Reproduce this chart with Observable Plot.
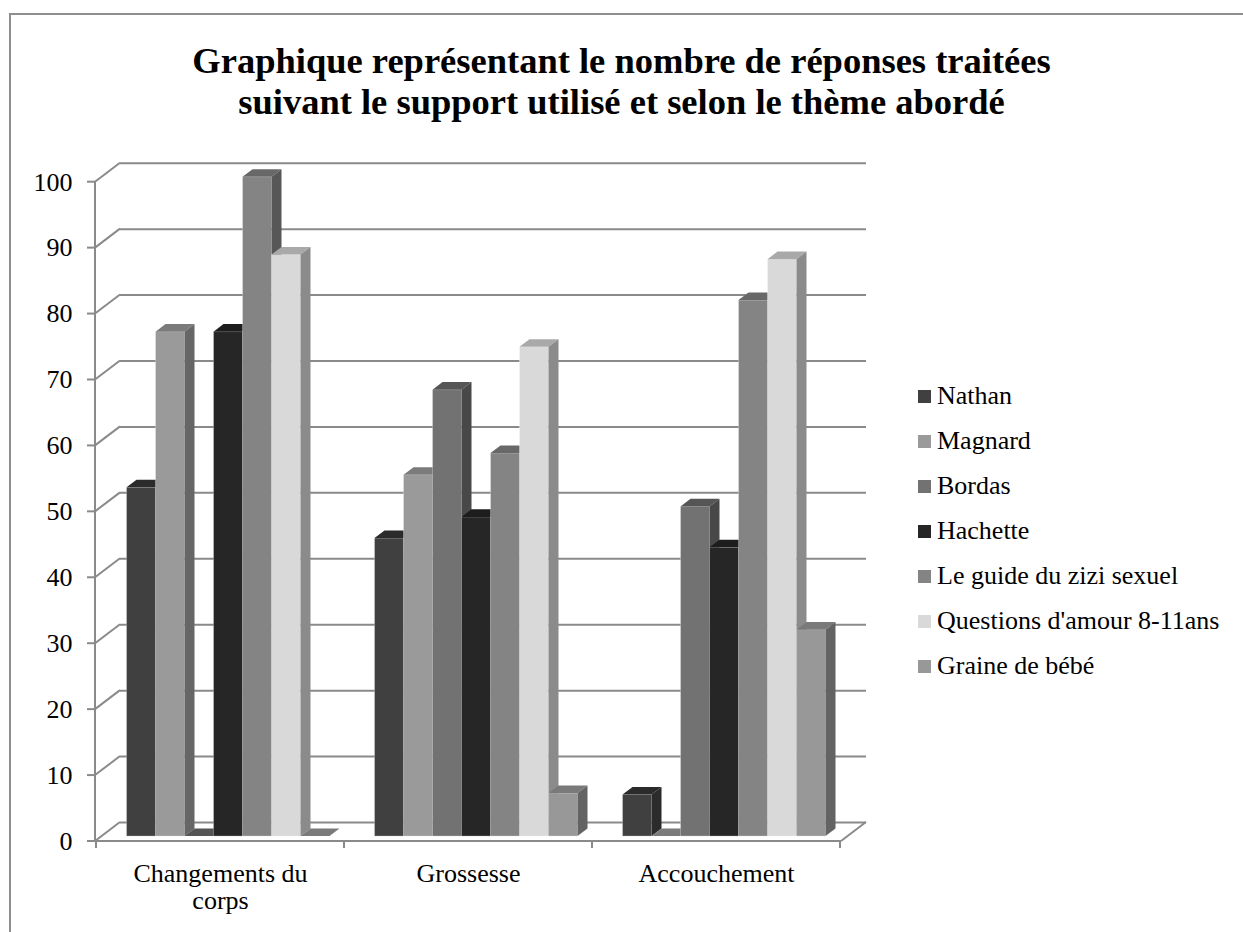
<!DOCTYPE html>
<html>
<head>
<meta charset="utf-8">
<script src="https://cdn.jsdelivr.net/npm/d3@7"></script>
<script src="https://cdn.jsdelivr.net/npm/@observablehq/plot@0.6"></script>
<style>
  html, body { margin: 0; padding: 0; background: #fff; }
  #wrap { position: relative; width: 1243px; height: 932px; overflow: hidden; background: #fff;
          font-family: "Liberation Serif", "Times New Roman", serif; }
  #border { position: absolute; left: 9px; top: 13px; width: 1400px; height: 1100px;
            border: 2px solid #8e8e8e; box-sizing: border-box; }
  #title { position: absolute; left: 0; top: 40px; width: 1243px; text-align: center;
           font-weight: bold; font-size: 36.5px; line-height: 41px; color: #000; }
  .layer { position: absolute; left: 0; top: 0; }
  .legrow { position: absolute; left: 918px; font-size: 26px; line-height: 30px; white-space: nowrap; color: #000; }
  .legrow span.sw { position: absolute; left: 0; width: 13px; height: 13px; }
  .legrow span.tx { position: absolute; left: 19px; top: 0; }
</style>
</head>
<body>
<div id="wrap">
  <div id="border"></div>
  <div id="title">Graphique représentant le nombre de réponses traitées<br>suivant le support utilisé et selon le thème abordé</div>
  <div id="back" class="layer"></div>
  <div id="bars" class="layer"></div>
  <div id="legend"></div>
</div>
<script>
// ---- data ----
const themes = ["Changements du corps", "Grossesse", "Accouchement"];
const themeLabels = ["Changements du\ncorps", "Grossesse", "Accouchement"];
const publishers = ["Nathan", "Magnard", "Bordas", "Hachette", "Le guide du zizi sexuel", "Questions d'amour 8-11ans", "Graine de bébé"];
const nathan    = [52.9, 45.2, 6.3];
const magnard   = [76.5, 54.8, 0];
const bordas    = [0, 67.7, 50];
const hachette  = [76.5, 48.4, 43.8];
const guide     = [100, 58.1, 81.3];
const questions = [88.2, 74.2, 87.5];
const graine    = [0, 6.5, 31.3];
const yTicks = [0, 10, 20, 30, 40, 50, 60, 70, 80, 90, 100];

const series = [nathan, magnard, bordas, hachette, guide, questions, graine];
const rows = [];
themes.forEach((t, i) => publishers.forEach((p, j) => rows.push({theme: t, publisher: p, value: series[j][i]})));

// ---- styles ----
const colFront = ["#404040", "#9a9a9a", "#727272", "#262626", "#848484", "#d9d9d9", "#989898"];
const colTop   = ["#2b2b2b", "#7b7b7b", "#555555", "#1d1d1d", "#686868", "#a9a9a9", "#7a7a7a"];
const colSide  = ["#2b2b2b", "#666666", "#484848", "#1d1d1d", "#575757", "#8b8b8b", "#636363"];
const GRID = "#8a8a8a";
const FONT = "'Liberation Serif', 'Times New Roman', serif";
const W = 1243, H = 932;
const M = {top: 181.7, right: 402, bottom: 91, left: 95};
const DX = 25, DY = -19;           // depth of the 3D box
const T_FRONT = 0.26, T_BACK = 0.66; // bar depth range

// ---- background: walls, gridlines, axes ----
function frame3d(index, scales, values, dimensions) {
  const xl = dimensions.marginLeft, xr = dimensions.width - dimensions.marginRight;
  const y0 = scales.y(0), y100 = scales.y(100);
  const g = d3.create("svg:g").attr("stroke", GRID).attr("stroke-width", 2).attr("fill", "none");
  for (const v of yTicks) {
    const y = scales.y(v);
    g.append("line").attr("x1", xl).attr("y1", y).attr("x2", xl + DX).attr("y2", y + DY);
    g.append("line").attr("x1", xl - 8).attr("y1", y).attr("x2", xl).attr("y2", y);
  }
  g.append("line").attr("x1", xl).attr("y1", y0).attr("x2", xl).attr("y2", y100);
  g.append("line").attr("x1", xl).attr("y1", y0).attr("x2", xr).attr("y2", y0);
  g.append("line").attr("x1", xr).attr("y1", y0).attr("x2", xr + DX).attr("y2", y0 + DY);
  // x ticks at category boundaries (point scale centred in each category)
  const step = scales.x(themes[1]) - scales.x(themes[0]);
  const xs = themes.map(t => scales.x(t) - step / 2).concat([scales.x(themes[themes.length - 1]) + step / 2]);
  for (const x of xs) g.append("line").attr("x1", x).attr("y1", y0).attr("x2", x).attr("y2", y0 + 7);
  return g.node();
}

const back = Plot.plot({
  width: W, height: H,
  marginTop: M.top, marginRight: M.right, marginBottom: M.bottom, marginLeft: M.left,
  style: {background: "transparent", fontFamily: FONT, fontSize: "26px", overflow: "visible"},
  x: {type: "point", domain: themes, padding: 0.5, axis: null},
  y: {domain: [0, 100], axis: null},
  marks: [
    Plot.ruleY(yTicks, {y: d => d, dx: DX, dy: DY, stroke: GRID, strokeWidth: 2}),
    frame3d,
    Plot.axisY(yTicks, {tickSize: 0, tickPadding: 23, fontSize: 26, fontFamily: FONT, label: null, fill: "#000"}),
    Plot.text(themes, {x: d => d, text: (d, i) => themeLabels[i], frameAnchor: "bottom", lineAnchor: "top",
                       dy: 22, fontSize: 26, fontFamily: FONT, lineHeight: 1.02, fill: "#000"})
  ]
});
document.getElementById("back").appendChild(back);

// ---- 3D bars ----
function bars3d(index, scales, values, dimensions) {
  const g = d3.create("svg:g");
  const step = scales.x(publishers[1]) - scales.x(publishers[0]);
  const bw = typeof scales.x.bandwidth === "function" ? scales.x.bandwidth() : step;
  const ox = DX * T_FRONT, oy = DY * T_FRONT;
  const ddx = DX * (T_BACK - T_FRONT), ddy = DY * (T_BACK - T_FRONT);
  const idx = Array.from(index).sort((a, b) => publishers.indexOf(rows[a].publisher) - publishers.indexOf(rows[b].publisher));
  for (const i of idx) {
    const d = rows[i];
    const k = publishers.indexOf(d.publisher);
    const x0 = scales.x(d.publisher) + ox, x1 = x0 + bw;
    const yb = scales.y(0) + oy, yv = scales.y(d.value) + oy;
    if (yb - yv > 0.01) {
      g.append("rect").attr("x", x0).attr("y", yv).attr("width", bw).attr("height", yb - yv)
        .attr("fill", colFront[k]).attr("stroke", "rgba(255,255,255,0.35)").attr("stroke-width", 0.8);
    }
    g.append("path").attr("d", `M${x0},${yv}L${x1},${yv}L${x1 + ddx},${yv + ddy}L${x0 + ddx},${yv + ddy}Z`)
      .attr("fill", colTop[k]);
    g.append("path").attr("d", `M${x1},${yv}L${x1 + ddx},${yv + ddy}L${x1 + ddx},${yb + ddy}L${x1},${yb}Z`)
      .attr("fill", colSide[k]);
  }
  return g.node();
}

const bars = Plot.plot({
  width: W, height: H,
  marginTop: M.top, marginRight: M.right, marginBottom: M.bottom, marginLeft: M.left,
  style: {background: "transparent", fontFamily: FONT, overflow: "visible"},
  fx: {domain: themes, padding: 0, axis: null, label: null},
  x: {domain: publishers, paddingInner: 0, paddingOuter: 0.75, align: 0.54, axis: null},
  y: {domain: [0, 100], axis: null},
  marks: [
    Plot.barY(rows, {fx: "theme", x: "publisher", y: "value", render: bars3d})
  ]
});
document.getElementById("bars").appendChild(bars);

// ---- legend ----
const legend = document.getElementById("legend");
publishers.forEach((p, i) => {
  const baseline = 405 + 45 * i;
  const row = document.createElement("div");
  row.className = "legrow";
  row.style.top = (baseline - 23.8) + "px";
  const sw = document.createElement("span");
  sw.className = "sw";
  sw.style.background = colFront[i];
  sw.style.top = (23.8 - 15) + "px";
  const tx = document.createElement("span");
  tx.className = "tx";
  tx.textContent = p;
  row.appendChild(sw); row.appendChild(tx);
  legend.appendChild(row);
});
</script>
</body>
</html>
